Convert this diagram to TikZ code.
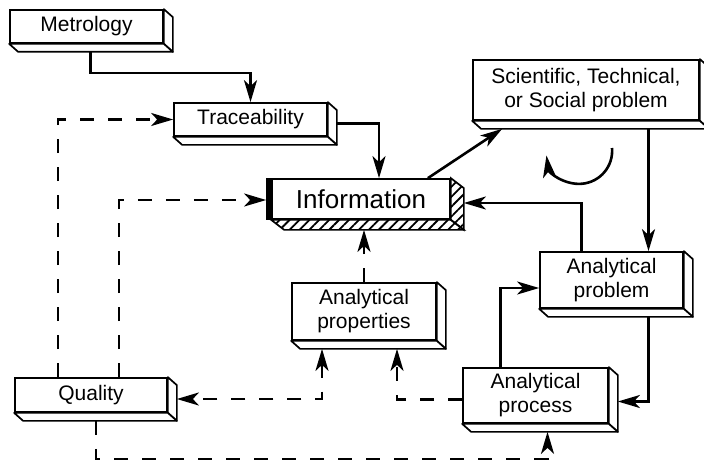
\documentclass[tikz,border=0pt]{standalone}
\usepackage{fontspec}
\setmainfont{Liberation Sans}
\usetikzlibrary{positioning,calc,arrows.meta,patterns.meta}

\begin{document}
\begin{tikzpicture}[x=0.5pt, y=-0.5pt,
                    blocknode/.style={rectangle, draw=black, line width=0.85pt, fill=white, align=center, inner sep=0pt, font=\fontsize{10.5}{12}\selectfont},
                    infonode/.style={rectangle, draw=black, line width=0.85pt, inner sep=0pt, font=\fontsize{13}{15}\selectfont},
                    sideface/.style={draw=black, line width=0.85pt, fill=white, line join=round},
                    hatchface/.style={draw=black, line width=0.85pt, pattern={Lines[angle=45,distance=3.5pt,line width=0.9pt]}},
                    tip/.tip={Stealth[length=11pt,width=6.5pt,inset=3pt]},
                    link/.style={line width=1.3pt, -tip},
                    dashlink/.style={link, dash pattern=on 7pt off 7pt}]
                    \useasboundingbox (0,0) rectangle (704,460);
                    \node[blocknode, minimum width=76.5pt, minimum height=16.5pt] (metro) at (86.5,26.5) {Metrology};
                    \node[blocknode, minimum width=76.5pt, minimum height=16.5pt] (trace) at (250.5,119.5) {Traceability};
                    \node[infonode, minimum width=89pt, minimum height=20pt] (info) at (361,199) {Information};
                    \node[blocknode, minimum width=113pt, minimum height=30pt] (sci) at (586,90) {Scientific, Technical,\\or Social problem};
                    \node[blocknode, minimum width=71.5pt, minimum height=28pt] (prob) at (611.5,280) {Analytical\\problem};
                    \node[blocknode, minimum width=72.5pt, minimum height=27.5pt] (proc) at (535.5,395.5) {Analytical\\process};
                    \node[blocknode, minimum width=72pt, minimum height=28.5pt] (prop) at (364,311.5) {Analytical\\properties};
                    \node[blocknode, minimum width=76pt, minimum height=17pt] (qual) at (91,395) {Quality};
                    % box depth
                    \foreach \b in {metro,trace,sci,prob,proc,prop,qual} {
                        \draw[sideface] (\b.north east) -- ++(9,8) -- ($(\b.south east)+(9,8)$) -- (\b.south east) -- cycle;
                        \draw[sideface] (\b.south west) -- ++(9,8) -- ($(\b.south east)+(9,8)$) -- (\b.south east) -- cycle;
                    }
                    \draw[hatchface] (info.north east) -- ++(13,10) -- ($(info.south east)+(13,10)$) -- (info.south east) -- cycle;
                    \draw[hatchface] (info.south west) -- ++(13,10) -- ($(info.south east)+(13,10)$) -- (info.south east) -- cycle;
                    \fill ($(info.north west)+(-5,0)$) rectangle (info.south west);
                    % solid links
                    \draw[link] (metro.south) ++(4,8) -- ++(0,21) -| (trace.north);
                    \draw[link] (trace.east) ++(9,4) -| ($(info.north)+(18,0)$);
                    \draw[link] ($(info.north east)+(-23,0)$) -- ($(sci.south west)+(30,8)$);
                    \coordinate (pin) at ($(prob.north)+(37,0)$);
                    \draw[link] (pin |- sci.south) ++(0,8) -- (pin);
                    \draw[link] ($(prob.north)+(-30,0)$) |- ($(info.east)+(13,4)$);
                    \draw[link] ($(prob.south)+(37,8)$) |- ($(proc.east)+(9,6)$);
                    \draw[link] ($(proc.north)+(-35,0)$) |- ($(prob.west)+(0,8)$);
                    \draw[link] (612,148) arc[start angle=5, end angle=-172, radius=16.5pt];
                    % dashed links
                    \draw[dashlink] (prop.north) -- ($(info.south)+(3,10)$);
                    \draw[dashlink] ($(proc.west)+(0,4)$) -| ($(prop.south)+(33,8)$);
                    \draw[dashlink, tip-tip] ($(prop.south)+(-42,8)$) |- ($(qual.east)+(9,4)$);
                    \draw[dashlink] ($(qual.north)+(-33,0)$) |- (trace.west);
                    \draw[dashlink] ($(qual.north)+(28,0)$) |- ($(info.west)+(-5,1)$);
                    \draw[dashlink] ($(qual.south)+(5,8)$) -- ++(0,38) -| ($(proc.south)+(12,8)$);
                \end{tikzpicture}
\end{document}
